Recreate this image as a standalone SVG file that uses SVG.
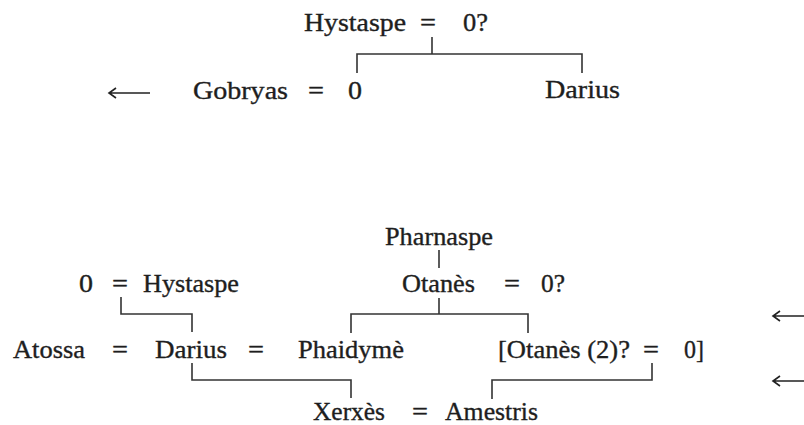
<svg xmlns="http://www.w3.org/2000/svg" width="804" height="425" viewBox="0 0 804 425">
<style>
text{font-family:"Liberation Serif","Times New Roman",serif;font-size:25px;fill:#1e1e1e;stroke:#1e1e1e;stroke-width:0.35;}
.c{fill:none;stroke:#333;stroke-width:1.6;}
.a{fill:none;stroke:#222;stroke-width:1.6;}
</style>
<rect width="804" height="425" fill="#fff"/>
<g id="top-parents">
<text x="304" y="31" textLength="102" lengthAdjust="spacingAndGlyphs">Hystaspe</text>
<text x="420" y="31" textLength="16" lengthAdjust="spacingAndGlyphs">=</text>
<text x="463" y="31" textLength="25" lengthAdjust="spacingAndGlyphs">0?</text>
</g>
<g id="top-gobryas">
<path class="a" d="M150,93 H110 M116,88 L109,93 L116,98"/>
<text x="193" y="99" textLength="95" lengthAdjust="spacingAndGlyphs">Gobryas</text>
<text x="308" y="99" textLength="16" lengthAdjust="spacingAndGlyphs">=</text>
<text x="348" y="99" textLength="14" lengthAdjust="spacingAndGlyphs">0</text>
</g>
<g id="top-darius">
<text x="545" y="98" textLength="75" lengthAdjust="spacingAndGlyphs">Darius</text>
</g>
<g id="pharnaspe">
<text x="385" y="245" textLength="108" lengthAdjust="spacingAndGlyphs">Pharnaspe</text>
</g>
<g id="hystaspe">
<text x="79" y="292" textLength="14" lengthAdjust="spacingAndGlyphs">0</text>
<text x="112" y="292" textLength="16" lengthAdjust="spacingAndGlyphs">=</text>
<text x="143" y="292" textLength="96" lengthAdjust="spacingAndGlyphs">Hystaspe</text>
</g>
<g id="otanes">
<text x="402" y="292" textLength="73" lengthAdjust="spacingAndGlyphs">Otanès</text>
<text x="504" y="292" textLength="16" lengthAdjust="spacingAndGlyphs">=</text>
<text x="541" y="292" textLength="24" lengthAdjust="spacingAndGlyphs">0?</text>
</g>
<g id="atossa">
<text x="13" y="358" textLength="72" lengthAdjust="spacingAndGlyphs">Atossa</text>
<text x="112" y="358" textLength="16" lengthAdjust="spacingAndGlyphs">=</text>
</g>
<g id="darius">
<text x="155" y="358" textLength="72" lengthAdjust="spacingAndGlyphs">Darius</text>
<text x="248" y="358" textLength="16" lengthAdjust="spacingAndGlyphs">=</text>
</g>
<g id="phaidyme">
<text x="298" y="358" textLength="106" lengthAdjust="spacingAndGlyphs">Phaidymè</text>
</g>
<g id="otanes2">
<text x="498" y="358" textLength="132" lengthAdjust="spacingAndGlyphs">[Otanès (2)?</text>
<text x="643" y="358" textLength="16" lengthAdjust="spacingAndGlyphs">=</text>
<text x="684" y="358" textLength="20" lengthAdjust="spacingAndGlyphs">0]</text>
</g>
<g id="xerxes">
<text x="313" y="420" textLength="72" lengthAdjust="spacingAndGlyphs">Xerxès</text>
<text x="412" y="420" textLength="16" lengthAdjust="spacingAndGlyphs">=</text>
</g>
<g id="amestris">
<text x="445" y="420" textLength="93" lengthAdjust="spacingAndGlyphs">Amestris</text>
</g>
<g id="connectors">
<path class="c" d="M432,37 V54"/>
<path class="c" d="M357,73 V54 H582 V73"/>
<path class="c" d="M439,250 V268"/>
<path class="c" d="M121,297 V314 H192 V332"/>
<path class="c" d="M439,298 V314"/>
<path class="c" d="M351,333 V314 H528 V333"/>
<path class="c" d="M192,363 V380 H351 V398"/>
<path class="c" d="M652,363 V380 H492 V399"/>
<path class="a" d="M806,316 H774 M780,311 L773,316 L780,321"/>
<path class="a" d="M806,381 H774 M780,376 L773,381 L780,386"/>
</g>
</svg>
